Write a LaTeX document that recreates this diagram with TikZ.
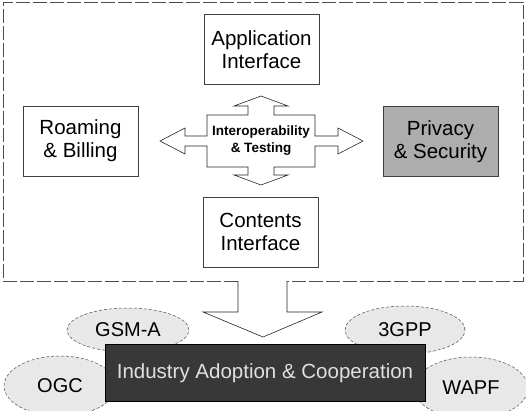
\documentclass[tikz,border=0pt]{standalone}
\usepackage{fontspec}
\setmainfont{Liberation Sans}
\usetikzlibrary{shapes.geometric}

\begin{document}
\begin{tikzpicture}[x=1pt,y=-1pt,
        box/.style={draw=black!75, line width=0.6pt, minimum width=115pt, minimum height=70pt,
                    align=center, font=\fontsize{20.5}{23}\selectfont},
        bubble/.style={ellipse, draw=black!70, densely dashed, line width=0.5pt, fill=black!9,
                       font=\fontsize{20}{23}\selectfont},
        frame/.style={draw=black!70, dash pattern=on 14pt off 3pt, line width=0.6pt},
        bigarrow/.style={draw=black!85, line width=0.6pt, fill=white, line join=miter}]
        \useasboundingbox (0,0) rectangle (526,410);
        \clip (0,0) rectangle (526,410);

        % outer frame with the outlet at the bottom
        \coordinate (fl) at (238,281);
        \coordinate (fr) at (287,281);
        \draw[frame] (fl) -- (3,281) -- (3,2) -- (523,2) -- (523,281) -- (fr);

        \node[box] at (261.5,49.5) (app) {Application\\Interface};
        \node[box] at (80.5,141) (roam) {Roaming\\\& Billing};
        \node[box, fill=black!32] at (440.5,141.5) (priv) {Privacy\\\& Security};
        \node[box] at (260.5,232) (cont) {Contents\\Interface};

        % four way arrow in the middle
        \node at (261,141) (iop) {};
        \begin{scope}[shift={(iop.center)}]
            \draw[bigarrow] (0,-45) -- (27,-35) -- (13,-35) -- (13,-26) -- (54,-26) -- (54,-5)
                -- (77,-5) -- (77,-13) -- (102,0) -- (77,13) -- (77,5) -- (54,5) -- (54,26)
                -- (13,26) -- (13,34) -- (27,34) -- (0,44) -- (-27,34) -- (-13,34) -- (-13,26)
                -- (-54,26) -- (-54,5) -- (-76,5) -- (-76,13) -- (-101,0) -- (-76,-13)
                -- (-76,-5) -- (-54,-5) -- (-54,-26) -- (-13,-26) -- (-13,-35) -- (-27,-35) -- cycle;
        \end{scope}
        \node[align=center, font=\bfseries\fontsize{13.5}{17}\selectfont] at (iop) (iopt)
            {Interoperability\\\& Testing};

        % down arrow out of the frame
        \draw[bigarrow] (fl) -- (238,312) -- (203,312) -- (263,337) -- (322,312) -- (287,312) -- (fr);

        \node[bubble, minimum width=122pt, minimum height=44pt] at (128,330) (gsm) {GSM-A};
        \node[bubble, minimum width=120pt, minimum height=48pt] at (405,330) (tgpp) {3GPP};
        \node[bubble, minimum width=112pt, minimum height=60pt] at (60,386) (ogc) {OGC};
        \node[bubble, minimum width=114pt, minimum height=62pt] at (471,388) (wapf) {WAPF};

        \node[draw=black, fill=black!78, text=black!12, minimum width=320pt, minimum height=57pt,
              font=\fontsize{20.5}{24}\selectfont] at (265,373) (ind) {Industry Adoption \& Cooperation};

    \end{tikzpicture}
\end{document}
